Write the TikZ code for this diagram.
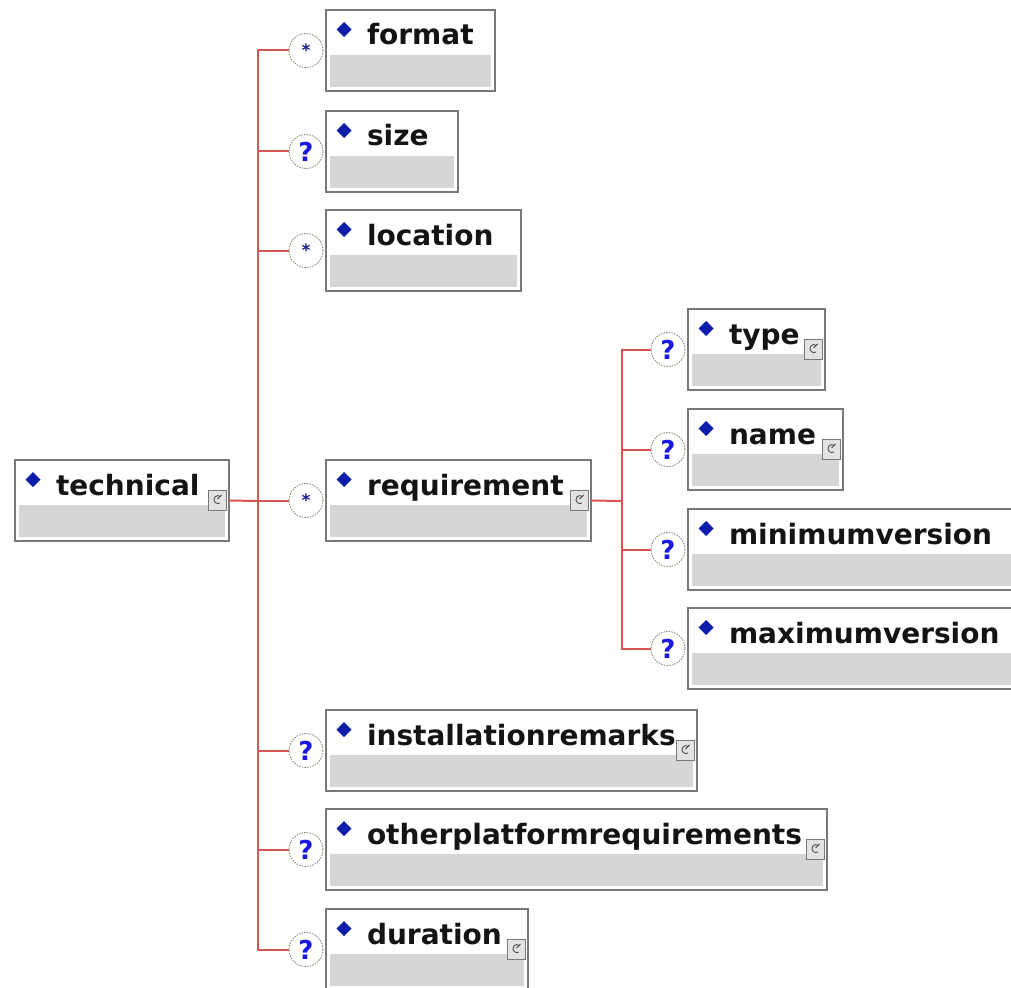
\documentclass[tikz,border=0pt]{standalone}
\usepackage{fontspec}
\setmainfont{DejaVu Sans}
\usetikzlibrary{calc}
\definecolor{linkred}{RGB}{218,84,84}
\definecolor{boxgray}{RGB}{120,120,120}
\definecolor{fillgray}{RGB}{214,214,214}
\definecolor{diablue}{RGB}{12,30,170}
\definecolor{occblue}{RGB}{25,25,225}
\definecolor{starblue}{RGB}{30,30,150}
\definecolor{occring}{RGB}{140,140,115}
\tikzset{
  elem/.style={draw=boxgray, line width=1.3pt, fill=white, minimum height=81pt,
    inner sep=0pt, outer sep=0pt, anchor=north west,
    path picture={\fill[fillgray] ([shift={(4pt,4pt)}]path picture bounding box.south west)
      rectangle ([shift={(-4pt,36pt)}]path picture bounding box.south east);}},
  lbl/.style={anchor=base west, inner sep=0pt, outer sep=0pt,
    font=\fontsize{28}{30}\selectfont\bfseries, text=black!92},
  occ/.style={circle, draw=occring, densely dashed, dash pattern=on 1.5pt off 1.2pt,
    line width=0.9pt, fill=white,
    minimum size=34pt, inner sep=0pt, outer sep=0pt, text=occblue,
    font=\fontsize{26}{26}\selectfont\bfseries},
  link/.style={draw=linkred, line width=2pt},
  icobox/.style={draw=boxgray, fill=gray!22, line width=0.9pt, minimum width=18pt,
    minimum height=20pt, inner sep=0pt, outer sep=0pt},
}
\newcommand\elembox[5]{%
  \node[elem, minimum width=#4pt] (#1) at (#2,#3) {};
  \fill[diablue] ([shift={(18pt,-12pt)}]#1.north west) -- ++(7.5pt,-7.5pt)
    -- ++(-7.5pt,-7.5pt) -- ++(-7.5pt,7.5pt) -- cycle;
  \node[lbl] (#1-t) at ([shift={(41pt,-35pt)}]#1.north west) {#5};
}
\newcommand\occq[1]{\node[occ] (#1-o) at ([xshift=-20pt]#1.west) {?};}
\newcommand\occs[1]{\node[occ, text=starblue, font=\fontsize{17}{17}\selectfont\bfseries] (#1-o)
  at ([xshift=-20pt]#1.west) {\raisebox{-4pt}{*}};}
\newcommand\ico[1]{%
  \node[icobox] (#1-i) at ([shift={(-11.5pt,-40pt)}]#1.north east) {};
  \draw[black!75, line width=0.8pt] ([shift={(3pt,3.5pt)}]#1-i.center)
    arc[start angle=50, end angle=300, radius=4pt];
  \draw[black!75, line width=0.8pt] ([shift={(0pt,1pt)}]#1-i.center) -- ++(4pt,4pt);
}
\begin{document}
\begin{tikzpicture}[x=1pt, y=-1pt]
\useasboundingbox (0,0) rectangle (1011,987);
\clip (0,0) rectangle (1011,987);
\fill[white] (0,0) rectangle (1011,987);

% root
\elembox{technical}{15}{460}{214}{technical}
\ico{technical}

% children of technical
\elembox{format}{326}{10}{169}{format}
\occs{format}
\elembox{size}{326}{111}{132}{size}
\occq{size}
\elembox{location}{326}{210}{195}{location}
\occs{location}
\elembox{requirement}{326}{460}{265}{requirement}
\occs{requirement}
\ico{requirement}
\elembox{installationremarks}{326}{710}{371}{installationremarks}
\occq{installationremarks}
\ico{installationremarks}
\elembox{otherplatformrequirements}{326}{809}{501}{otherplatformrequirements}
\occq{otherplatformrequirements}
\ico{otherplatformrequirements}
\elembox{duration}{326}{909}{202}{duration}
\occq{duration}
\ico{duration}

% children of requirement
\elembox{type}{688}{309}{137}{type}
\occq{type}
\ico{type}
\elembox{name}{688}{409}{155}{name}
\occq{name}
\ico{name}
\elembox{minimumversion}{688}{509}{330}{minimumversion}
\occq{minimumversion}
\elembox{maximumversion}{688}{608}{330}{maximumversion}
\occq{maximumversion}

% connectors
\coordinate (j1) at (258,501);
\coordinate (j2) at (622,501);
\draw[link] (technical.east) -- (j1);
\foreach \c in {format,size,location,requirement,installationremarks,otherplatformrequirements,duration}
  \draw[link] (j1) |- (\c-o.west);
\draw[link] (requirement.east) -- (j2);
\foreach \c in {type,name,minimumversion,maximumversion}
  \draw[link] (j2) |- (\c-o.west);
\end{tikzpicture}
\end{document}
